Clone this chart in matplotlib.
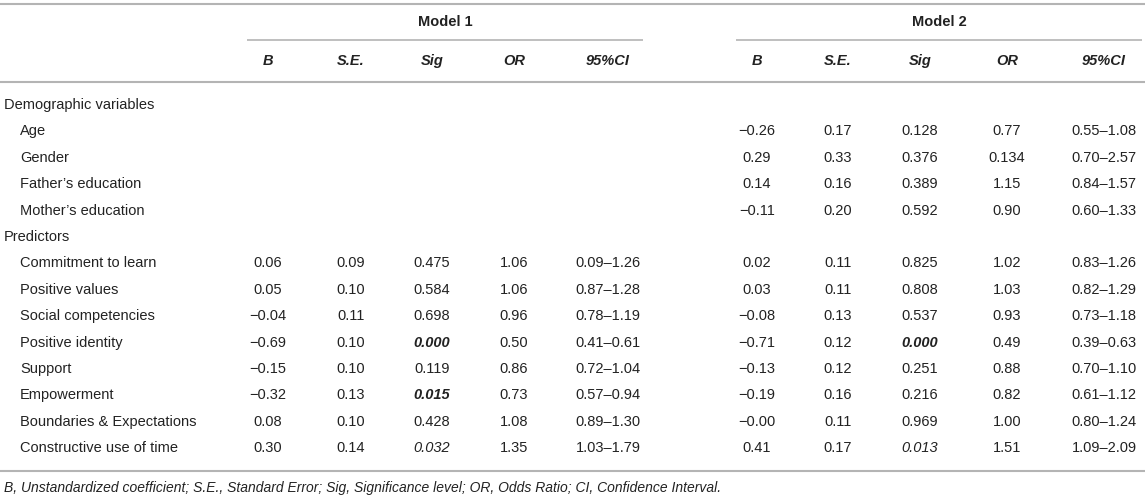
import matplotlib
matplotlib.use("Agg")
import matplotlib.pyplot as plt

# table content
row_labels = ["Demographic variables", "Age", "Gender", "Father\u2019s education", "Mother\u2019s education",
              "Predictors", "Commitment to learn", "Positive values", "Social competencies",
              "Positive identity", "Support", "Empowerment", "Boundaries & Expectations",
              "Constructive use of time"]
is_group = [True, False, False, False, False, True, False, False, False, False, False, False, False, False]

col_heads = ["B", "S.E.", "Sig", "OR", "95%CI"]
models = ["Model 1", "Model 2"]

m1_B = ["", "", "", "", "", "", "0.06", "0.05", "\u22120.04", "\u22120.69", "\u22120.15", "\u22120.32", "0.08", "0.30"]
m1_SE = ["", "", "", "", "", "", "0.09", "0.10", "0.11", "0.10", "0.10", "0.13", "0.10", "0.14"]
m1_Sig = ["", "", "", "", "", "", "0.475", "0.584", "0.698", "0.000", "0.119", "0.015", "0.428", "0.032"]
m1_OR = ["", "", "", "", "", "", "1.06", "1.06", "0.96", "0.50", "0.86", "0.73", "1.08", "1.35"]
m1_CI = ["", "", "", "", "", "", "0.09\u20131.26", "0.87\u20131.28", "0.78\u20131.19", "0.41\u20130.61",
         "0.72\u20131.04", "0.57\u20130.94", "0.89\u20131.30", "1.03\u20131.79"]

m2_B = ["", "\u22120.26", "0.29", "0.14", "\u22120.11", "", "0.02", "0.03", "\u22120.08", "\u22120.71",
        "\u22120.13", "\u22120.19", "\u22120.00", "0.41"]
m2_SE = ["", "0.17", "0.33", "0.16", "0.20", "", "0.11", "0.11", "0.13", "0.12", "0.12", "0.16", "0.11", "0.17"]
m2_Sig = ["", "0.128", "0.376", "0.389", "0.592", "", "0.825", "0.808", "0.537", "0.000", "0.251", "0.216",
          "0.969", "0.013"]
m2_OR = ["", "0.77", "0.134", "1.15", "0.90", "", "1.02", "1.03", "0.93", "0.49", "0.88", "0.82", "1.00", "1.51"]
m2_CI = ["", "0.55\u20131.08", "0.70\u20132.57", "0.84\u20131.57", "0.60\u20131.33", "", "0.83\u20131.26",
         "0.82\u20131.29", "0.73\u20131.18", "0.39\u20130.63", "0.70\u20131.10", "0.61\u20131.12", "0.80\u20131.24",
         "1.09\u20132.09"]

# sig styles: 'b' bold italic, 'i' italic, '' normal
m1_sig_style = ["", "", "", "", "", "", "", "", "", "b", "", "b", "", "i"]
m2_sig_style = ["", "", "", "", "", "", "", "", "", "b", "", "", "", "i"]

footnote = ("B, Unstandardized coefficient; S.E., Standard Error; Sig, Significance level; "
            "OR, Odds Ratio; CI, Confidence Interval.")

# layout (pixels)
W, H = 1145, 498
col_x = [[268, 351, 432, 514, 608], [757, 838, 920, 1007, 1104]]
model_span = [(247, 643), (736, 1142)]
row_y0, row_dy = 105, 26.4
line_col = "#b4b4b4"
txt_col = "#222222"
fs = 10.5

plt.rcParams['font.family'] = ['Liberation Sans', 'DejaVu Sans']

fig = plt.figure(figsize=(W / 100, H / 100), dpi=100)
ax = fig.add_axes([0, 0, 1, 1])
ax.set_xlim(0, W)
ax.set_ylim(H, 0)
ax.axis('off')

# rules
ax.plot([0, W], [4, 4], color=line_col, lw=1.5, solid_capstyle='butt')
ax.plot([0, W], [82, 82], color=line_col, lw=1.5, solid_capstyle='butt')
ax.plot([0, W], [471, 471], color=line_col, lw=1.5, solid_capstyle='butt')
for (x0, x1) in model_span:
    ax.plot([x0, x1], [40, 40], color=line_col, lw=1.2, solid_capstyle='butt')

# headers
for m, (x0, x1) in zip(models, model_span):
    ax.text((x0 + x1) / 2, 22, m, ha='center', va='center', fontsize=fs, fontweight='bold', color=txt_col)
for xs in col_x:
    for x, h in zip(xs, col_heads):
        ax.text(x, 61, h, ha='center', va='center', fontsize=fs, fontweight='bold', style='italic',
                color=txt_col)

# body
model_cols = [(m1_B, m1_SE, m1_Sig, m1_OR, m1_CI, m1_sig_style),
              (m2_B, m2_SE, m2_Sig, m2_OR, m2_CI, m2_sig_style)]
for i, lab in enumerate(row_labels):
    y = row_y0 + i * row_dy
    ax.text(4 if is_group[i] else 20, y, lab, ha='left', va='center', fontsize=fs, color=txt_col)
    for xs, cols in zip(col_x, model_cols):
        vals = cols[:5]
        sty = cols[5][i]
        for j, (x, v) in enumerate(zip(xs, vals)):
            kw = {}
            if j == 2 and sty == 'b':
                kw = dict(fontweight='bold', style='italic')
            elif j == 2 and sty == 'i':
                kw = dict(style='italic')
            ax.text(x, y, v[i], ha='center', va='center', fontsize=fs, color=txt_col, **kw)

ax.text(4, 488, footnote, ha='left', va='center', fontsize=fs - 0.5, style='italic', color=txt_col)

fig.savefig("out.png", dpi=100)
